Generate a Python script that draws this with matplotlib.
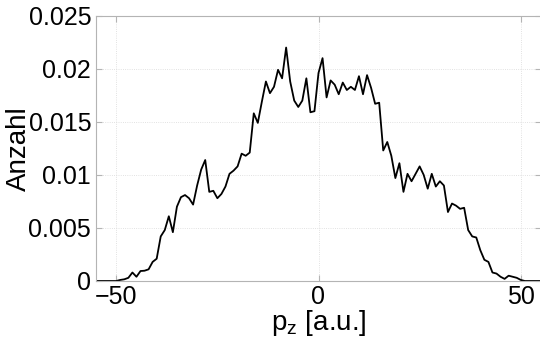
import numpy as np
import matplotlib
matplotlib.use("Agg")
import matplotlib.pyplot as plt
from matplotlib.ticker import FuncFormatter

# momentum bins (a.u.) and normalised counts
pz = np.arange(-55, 56)
anzahl = [
    0, 0, 0, 0, 0, 0,                                          # -55 .. -50
    0.0001, 0.00016, 0.0003, 0.0008, 0.0004, 0.00094, 0.00097,  # -49 .. -43
    0.0011, 0.0018, 0.0021, 0.0042, 0.0048, 0.0061, 0.0046,     # -42 .. -36
    0.0070, 0.0079, 0.0081, 0.0078, 0.0072, 0.0090, 0.0105,     # -35 .. -29
    0.0114, 0.0084, 0.0085, 0.0078, 0.0082, 0.0089, 0.0101,     # -28 .. -22
    0.0104, 0.0108, 0.0120, 0.0118, 0.0121, 0.0158, 0.0149,     # -21 .. -15
    0.0169, 0.0188, 0.0177, 0.0183, 0.0199, 0.0191, 0.0220,     # -14 .. -8
    0.0188, 0.0170, 0.0164, 0.0170, 0.0191, 0.0159, 0.0160,     # -7 .. -1
    0.0196,                                                     # 0
    0.0210, 0.0173, 0.0189, 0.0185, 0.0176, 0.0187, 0.0180,     # 1 .. 7
    0.0183, 0.0180, 0.0193, 0.0176, 0.0194, 0.0182, 0.0167,     # 8 .. 14
    0.0168, 0.0123, 0.0131, 0.0118, 0.0097, 0.0111, 0.0084,     # 15 .. 21
    0.0101, 0.0094, 0.0101, 0.0108, 0.0100, 0.0087, 0.0101,     # 22 .. 28
    0.0089, 0.0094, 0.0090, 0.0065, 0.0073, 0.0071, 0.0068,     # 29 .. 35
    0.0069, 0.0048, 0.0042, 0.0041, 0.0029, 0.0020, 0.0018,     # 36 .. 42
    0.0008, 0.0007, 0.0004, 0.0002, 0.0005, 0.0004, 0.0003,     # 43 .. 49
    0.0001, 0, 0, 0, 0, 0,                                      # 50 .. 55
]

xticks = [-50, 0, 50]
yticks = [0, 0.005, 0.01, 0.015, 0.02, 0.025]

plt.rcParams['font.family'] = ['Liberation Sans', 'DejaVu Sans']

fig = plt.figure(figsize=(5.4, 3.41), dpi=100)
ax = fig.add_axes([96 / 540, 60 / 341, 445 / 540, 265.3 / 341])

ax.plot(pz, anzahl, color='black', linewidth=1.3)

ax.set_xlim(-55, 55)
ax.set_ylim(0, 0.025)
ax.set_xticks(xticks)
ax.set_yticks(yticks)
ax.yaxis.set_major_formatter(FuncFormatter(lambda v, _: '{:g}'.format(v)))

ax.grid(True, linestyle=':', linewidth=0.6, color='#d8d8d8')
ax.set_axisbelow(True)
for s in ax.spines.values():
    s.set_color('#b4b4b4')
    s.set_linewidth(0.8)
ax.tick_params(direction='in', length=4, width=0.8, color='#b4b4b4',
               top=True, right=True, labelsize=18, labelcolor='black')
ax.tick_params(axis='x', pad=3)
ax.tick_params(axis='y', pad=3.5)

ax.set_xlabel('p$_\\mathregular{z}$ [a.u.]', fontsize=20)
ax.xaxis.set_label_coords(0.5, -0.103)
ax.set_ylabel('Anzahl', fontsize=20)
ax.yaxis.set_label_coords(-0.145, 0.5)

fig.savefig('out.png', dpi=100)
